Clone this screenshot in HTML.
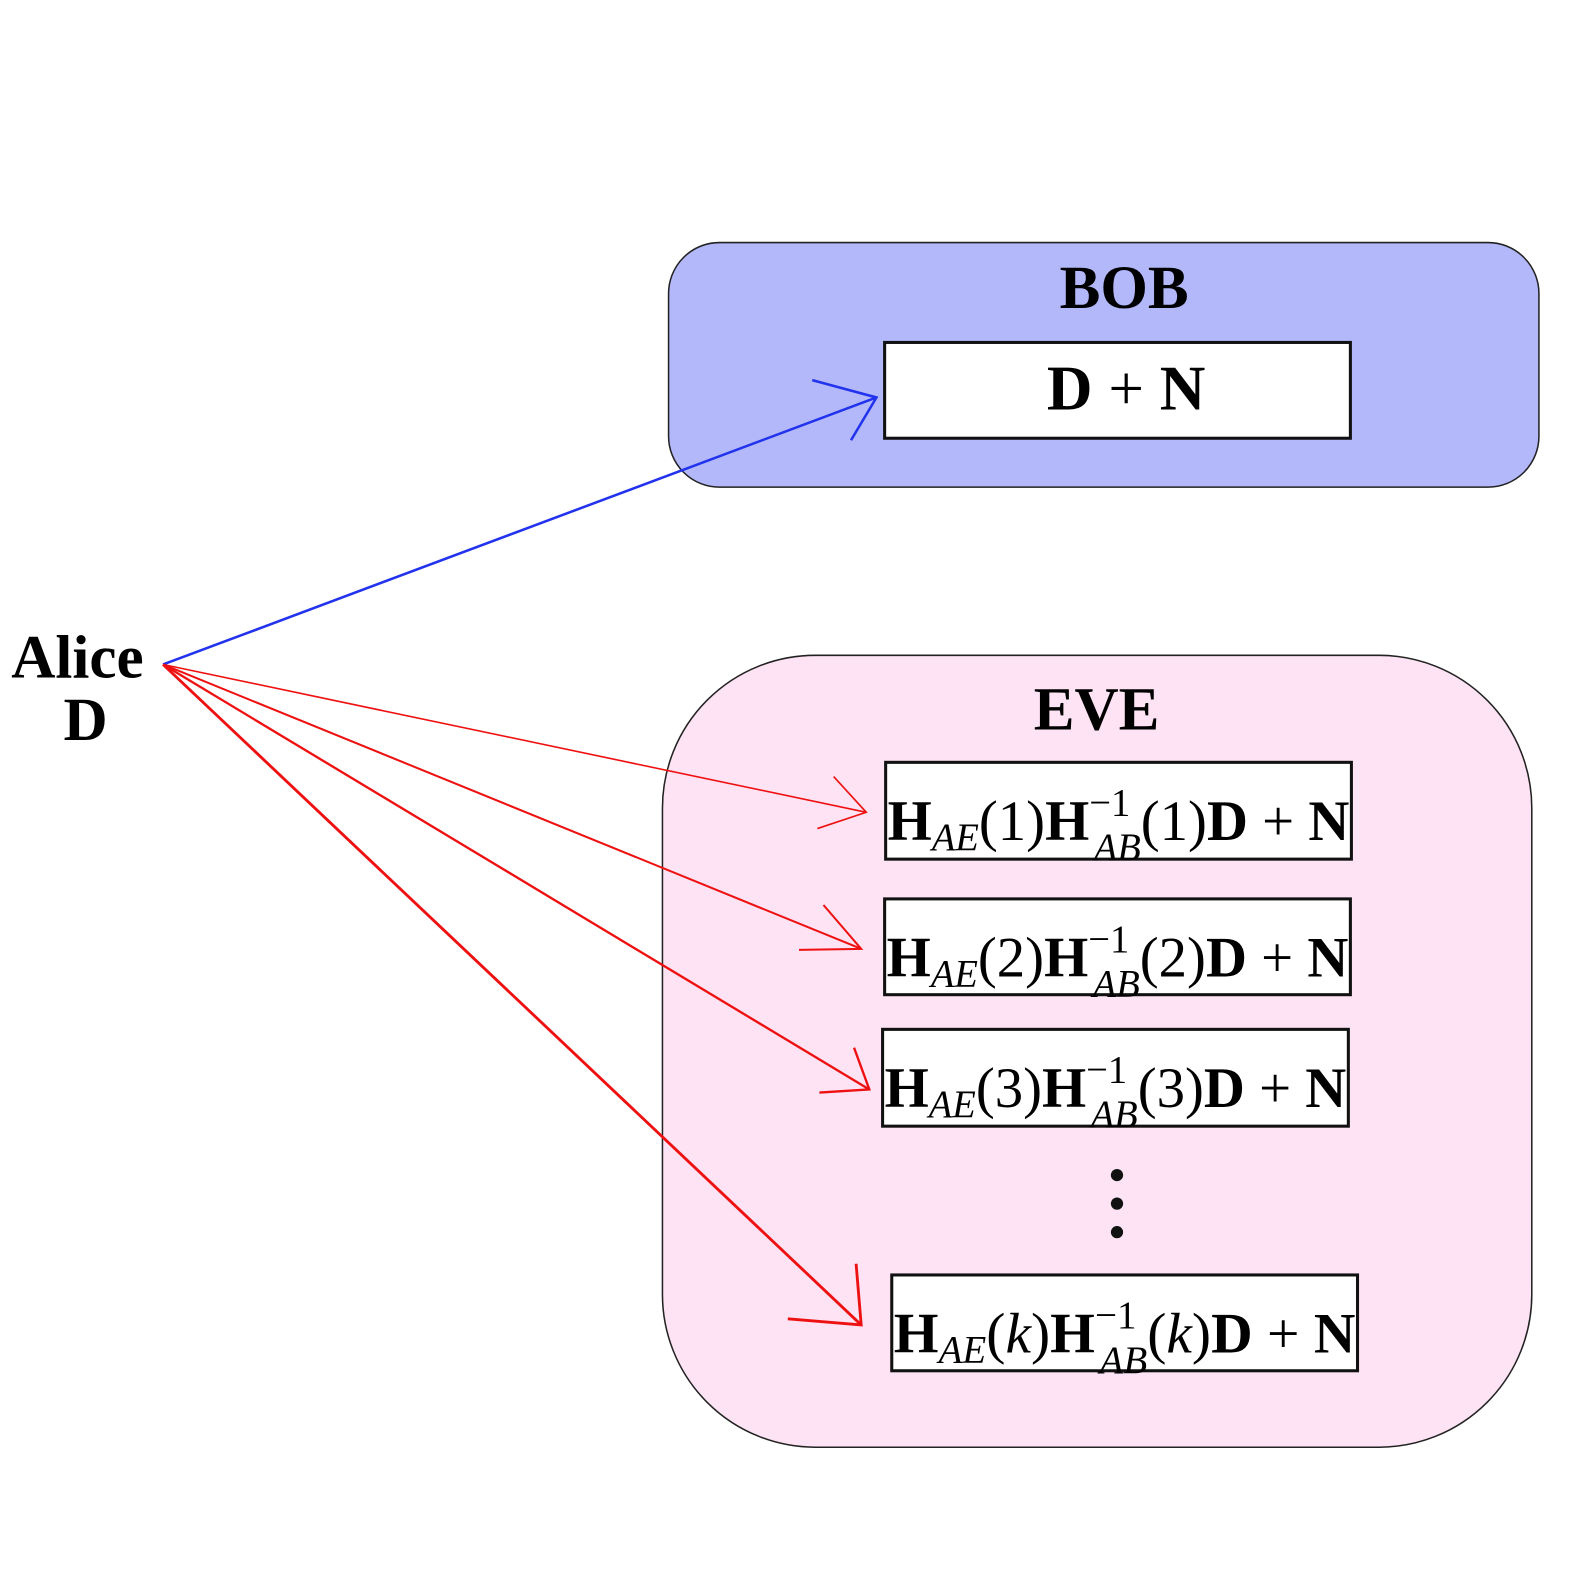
<!DOCTYPE html>
<html><head><meta charset="utf-8"><style>html,body{margin:0;padding:0;background:#fff}svg{display:block}</style></head>
<body>
<svg width="1596" height="1596" viewBox="0 0 1566 1566" xmlns="http://www.w3.org/2000/svg" font-family="'Liberation Serif', serif">
<rect x="656" y="238" width="854" height="240" rx="50" fill="#b3b8fb" stroke="#222" stroke-width="1.5"/>
<text x="1103" y="302" font-size="60" font-weight="bold" text-anchor="middle">BOB</text>
<rect x="868" y="336" width="457" height="94" fill="#fff" stroke="#111" stroke-width="3"/>
<text x="1105" y="402" font-size="62" text-anchor="middle"><tspan font-weight="bold">D</tspan> + <tspan font-weight="bold">N</tspan></text>

<rect x="650" y="643" width="853" height="777" rx="150" fill="#fde3f3" stroke="#222" stroke-width="1.5"/>
<text x="1076" y="716" font-size="60" font-weight="bold" text-anchor="middle">EVE</text>

<g fill="#fff" stroke="#111" stroke-width="3">
<rect x="869" y="748" width="457" height="95"/>
<rect x="868" y="882" width="457" height="94"/>
<rect x="866" y="1010" width="457" height="95"/>
<rect x="875" y="1251" width="457" height="94"/>
</g>
<g font-size="56">
<text x="871" y="824" textLength="453" lengthAdjust="spacingAndGlyphs"><tspan font-weight="bold">H</tspan><tspan font-style="italic" font-size="38" dy="10">AE</tspan><tspan dy="-10">(1)</tspan><tspan font-weight="bold">H</tspan><tspan font-size="38" dy="-24">−1</tspan><tspan font-style="italic" font-size="38" dx="-36" dy="44">AB</tspan><tspan dy="-20">(1)</tspan><tspan font-weight="bold">D</tspan> + <tspan font-weight="bold">N</tspan></text>
<text x="870" y="958" textLength="453" lengthAdjust="spacingAndGlyphs"><tspan font-weight="bold">H</tspan><tspan font-style="italic" font-size="38" dy="10">AE</tspan><tspan dy="-10">(2)</tspan><tspan font-weight="bold">H</tspan><tspan font-size="38" dy="-24">−1</tspan><tspan font-style="italic" font-size="38" dx="-36" dy="44">AB</tspan><tspan dy="-20">(2)</tspan><tspan font-weight="bold">D</tspan> + <tspan font-weight="bold">N</tspan></text>
<text x="868" y="1086" textLength="453" lengthAdjust="spacingAndGlyphs"><tspan font-weight="bold">H</tspan><tspan font-style="italic" font-size="38" dy="10">AE</tspan><tspan dy="-10">(3)</tspan><tspan font-weight="bold">H</tspan><tspan font-size="38" dy="-24">−1</tspan><tspan font-style="italic" font-size="38" dx="-36" dy="44">AB</tspan><tspan dy="-20">(3)</tspan><tspan font-weight="bold">D</tspan> + <tspan font-weight="bold">N</tspan></text>
<text x="877" y="1327" textLength="453" lengthAdjust="spacingAndGlyphs"><tspan font-weight="bold">H</tspan><tspan font-style="italic" font-size="38" dy="10">AE</tspan><tspan dy="-10">(</tspan><tspan font-style="italic">k</tspan>)<tspan font-weight="bold">H</tspan><tspan font-size="38" dy="-24">−1</tspan><tspan font-style="italic" font-size="38" dx="-36" dy="44">AB</tspan><tspan dy="-20">(</tspan><tspan font-style="italic">k</tspan>)<tspan font-weight="bold">D</tspan> + <tspan font-weight="bold">N</tspan></text>
</g>
<g fill="#111"><circle cx="1096" cy="1153" r="6"/><circle cx="1096" cy="1181" r="6"/><circle cx="1096" cy="1209" r="6"/></g>

<text x="76" y="665" font-size="60" font-weight="bold" text-anchor="middle">Alice</text>
<text x="84" y="726" font-size="60" font-weight="bold" text-anchor="middle">D</text>

<g fill="none" stroke="#2233ee" stroke-width="2.5">
<line x1="160" y1="652" x2="860" y2="390"/>
<polyline points="797,373 860,390 835,432"/>
</g>
<g fill="none" stroke="#ee1111">
<line x1="160" y1="652" x2="850" y2="797" stroke-width="1.6"/>
<polyline points="818,762 850,797 802,813" stroke-width="1.6"/>
<line x1="160" y1="652" x2="845" y2="931" stroke-width="2"/>
<polyline points="808,888 845,931 784,932" stroke-width="2"/>
<line x1="160" y1="652" x2="853" y2="1069" stroke-width="2.3"/>
<polyline points="838,1028 853,1069 804,1072" stroke-width="2.3"/>
<line x1="160" y1="652" x2="845" y2="1300" stroke-width="2.8"/>
<polyline points="840,1240 845,1300 773,1294" stroke-width="2.8"/>
</g>
</svg>
</body></html>
